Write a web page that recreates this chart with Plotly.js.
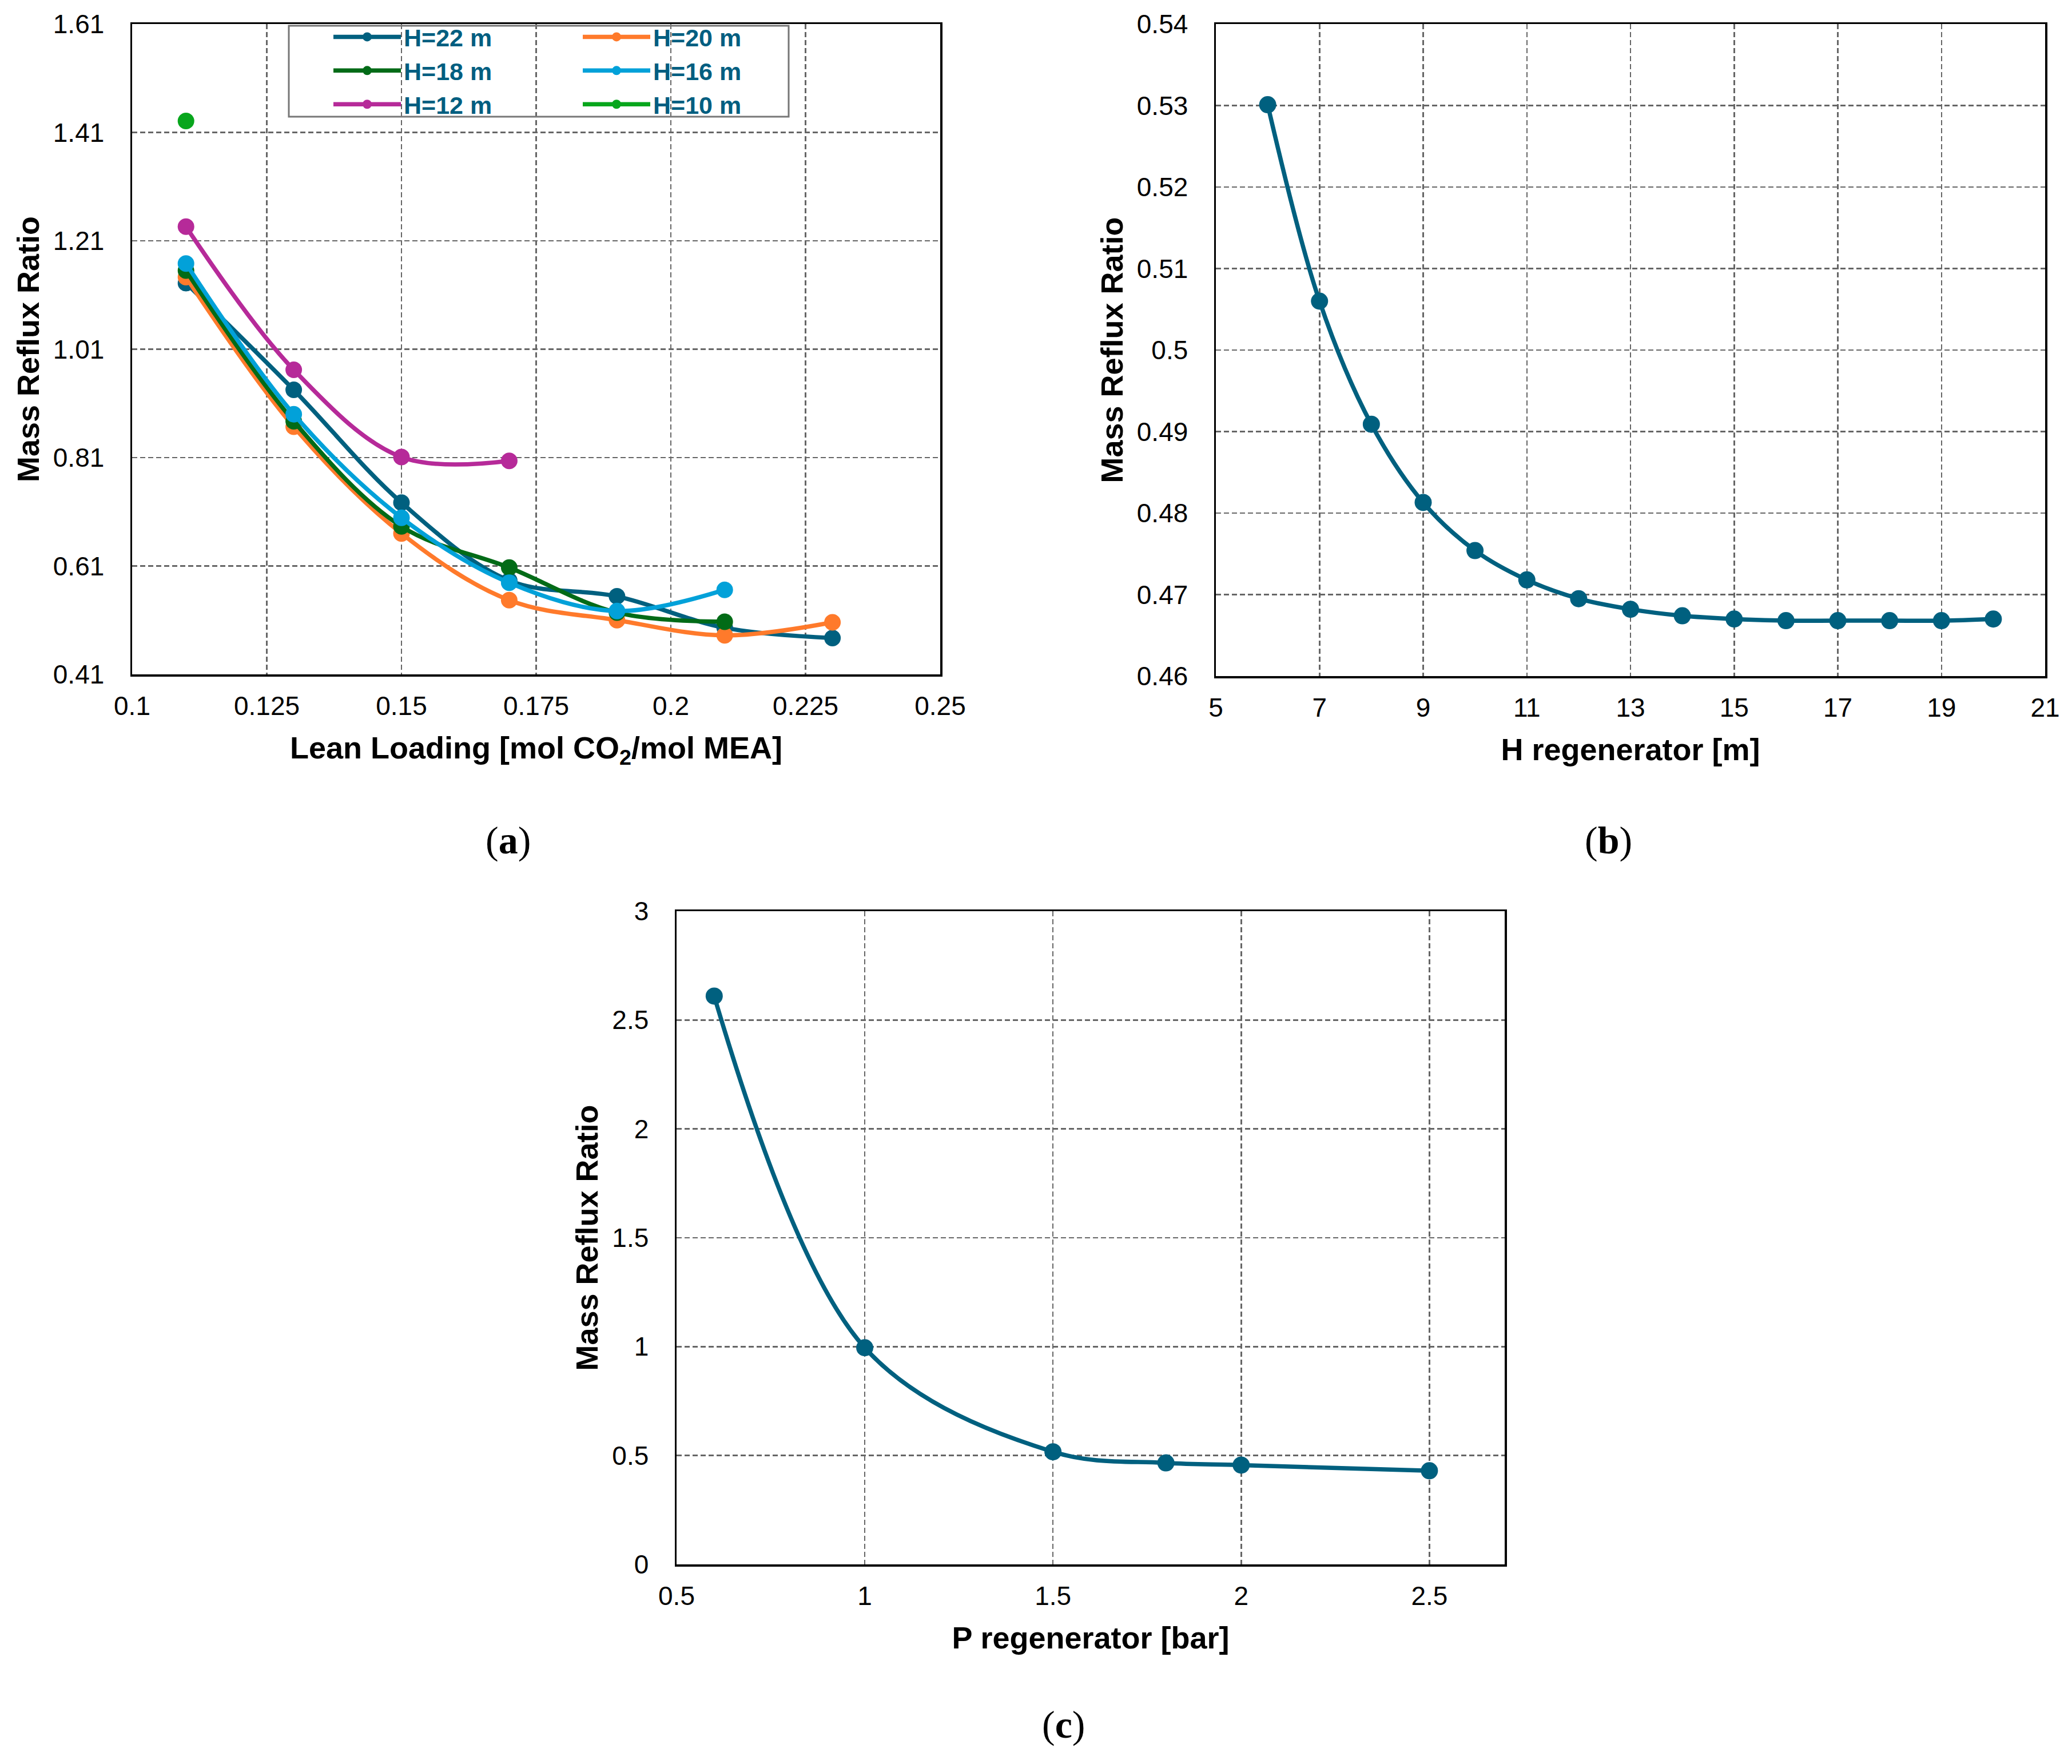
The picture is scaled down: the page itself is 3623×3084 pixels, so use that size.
<!DOCTYPE html>
<html>
<head>
<meta charset="utf-8">
<script src="https://cdn.plot.ly/plotly-3.0.1.min.js"></script>
<style>
  html, body { margin: 0; padding: 0; background: #fff; }
  #chart { width: 3623px; height: 3084px; }
</style>
</head>
<body>
<div id="chart"></div>
<script>
// (a) lean loading sweep, one series per regenerator height
var leanLoading = [0.11, 0.13, 0.15, 0.17, 0.19, 0.21, 0.23];
var refluxH22 = [1.132, 0.935, 0.727, 0.583, 0.554, 0.496, 0.477];
var refluxH20 = [1.143, 0.867, 0.670, 0.547, 0.510, 0.482, 0.506];
var refluxH18 = [1.155, 0.877, 0.683, 0.607, 0.524, 0.507];
var refluxH16 = [1.168, 0.890, 0.699, 0.579, 0.527, 0.566];
var refluxH12 = [1.236, 0.972, 0.811, 0.804];
var refluxH10 = [1.431];
var leanTicks = [0.1, 0.125, 0.15, 0.175, 0.2, 0.225, 0.25];
var leanTickText = ["0.1", "0.125", "0.15", "0.175", "0.2", "0.225", "0.25"];
var refluxTicksA = [0.41, 0.61, 0.81, 1.01, 1.21, 1.41, 1.61];
var refluxTickTextA = ["0.41", "0.61", "0.81", "1.01", "1.21", "1.41", "1.61"];

// (b) regenerator height
var heightRegen = [6, 7, 8, 9, 10, 11, 12, 13, 14, 15, 16, 17, 18, 19, 20];
var refluxB = [0.5301, 0.506, 0.4909, 0.4813, 0.4754, 0.4718, 0.4695, 0.4682, 0.4674, 0.4670, 0.4668, 0.4668, 0.4668, 0.4668, 0.4670];
var heightTicks = [5, 7, 9, 11, 13, 15, 17, 19, 21];
var heightTickText = ["5", "7", "9", "11", "13", "15", "17", "19", "21"];
var refluxTicksB = [0.46, 0.47, 0.48, 0.49, 0.5, 0.51, 0.52, 0.53, 0.54];
var refluxTickTextB = ["0.46", "0.47", "0.48", "0.49", "0.5", "0.51", "0.52", "0.53", "0.54"];

// (c) regenerator pressure
var pressureRegen = [0.6, 1.0, 1.5, 1.8, 2.0, 2.5];
var refluxC = [2.61, 0.995, 0.517, 0.466, 0.456, 0.43];
var pressureTicks = [0.5, 1, 1.5, 2, 2.5];
var pressureTickText = ["0.5", "1", "1.5", "2", "2.5"];
var refluxTicksC = [0, 0.5, 1, 1.5, 2, 2.5, 3];
var refluxTickTextC = ["0", "0.5", "1", "1.5", "2", "2.5", "3"];

var W = 3623, H = 3084;
var sans = "Liberation Sans, Arial, sans-serif";
var teal = "#00607F";

function series(name, x, y, color, legend) {
    return {
        type: "scatter",
        mode: "lines+markers",
        name: name,
        x: x,
        y: y,
        xaxis: "x",
        yaxis: "y",
        legend: legend,
        line: { color: color, width: 7.5, shape: "spline", smoothing: 1 },
        marker: { color: color, size: 29 }
    };
}

var data = [
    series("H=22 m", leanLoading, refluxH22, "#00607F", "legend"),
    series("H=20 m", leanLoading, refluxH20, "#FF7A2B", "legend2"),
    series("H=18 m", leanLoading.slice(0, refluxH18.length), refluxH18, "#026B17", "legend"),
    series("H=16 m", leanLoading.slice(0, refluxH16.length), refluxH16, "#02A1D9", "legend2"),
    series("H=12 m", leanLoading.slice(0, refluxH12.length), refluxH12, "#B62A99", "legend"),
    series("H=10 m", leanLoading.slice(0, refluxH10.length), refluxH10, "#07A61C", "legend2"),
    {
        type: "scatter", mode: "lines+markers", x: heightRegen, y: refluxB,
        xaxis: "x2", yaxis: "y2", showlegend: false,
        line: { color: teal, width: 7.5, shape: "spline", smoothing: 1 },
        marker: { color: teal, size: 30 }
    },
    {
        type: "scatter", mode: "lines+markers", x: pressureRegen, y: refluxC,
        xaxis: "x3", yaxis: "y3", showlegend: false,
        line: { color: teal, width: 7.5, shape: "spline", smoothing: 1 },
        marker: { color: teal, size: 30 }
    }
];

// pixel helpers -> paper fractions
function px(v) { return v / W; }
function py(v) { return 1 - v / H; }

function axis(extra) {
    var base = {
        showline: true, mirror: true, linecolor: "#000", linewidth: 3.5,
        showgrid: true, gridcolor: "#666", gridwidth: 2.5, griddash: "9px,5px",
        zeroline: false, ticks: "",
        tickfont: { family: sans, size: 46, color: "#000" },
        tickmode: "array", fixedrange: true
    };
    for (var k in extra) base[k] = extra[k];
    return base;
}

function axisTitle(text, standoff) {
    return { text: text, standoff: standoff, font: { family: sans, size: 54, color: "#000", weight: 700 } };
}

var legendStyle = function (left) {
    return {
        x: px(left), xanchor: "left", y: py(30), yanchor: "top",
        bgcolor: "rgba(0,0,0,0)", borderwidth: 0,
        font: { family: sans, size: 43, color: "#005E80", weight: 700 },
        itemwidth: 118, tracegroupgap: 0
    };
};

var layout = {
    width: W,
    height: H,
    margin: { l: 0, r: 0, t: 0, b: 0 },
    paper_bgcolor: "#fff",
    plot_bgcolor: "#fff",
    xaxis: axis({
        domain: [px(231), px(1644)], range: [0.1, 0.25], anchor: "y",
        tickvals: leanTicks, ticktext: leanTickText, ticklabelstandoff: 12,
        title: axisTitle("Lean Loading [mol CO<sub>2</sub>/mol MEA]", 30)
    }),
    yaxis: axis({
        domain: [py(1179), py(42)], range: [0.41, 1.61], anchor: "x",
        tickvals: refluxTicksA, ticktext: refluxTickTextA, ticklabelstandoff: 36,
        title: axisTitle("Mass Reflux Ratio", 8)
    }),
    xaxis2: axis({
        domain: [px(2126), px(3576)], range: [5, 21], anchor: "y2",
        tickvals: heightTicks, ticktext: heightTickText, ticklabelstandoff: 12,
        title: axisTitle("H regenerator [m]", 30)
    }),
    yaxis2: axis({
        domain: [py(1182), py(42)], range: [0.46, 0.54], anchor: "x2",
        tickvals: refluxTicksB, ticktext: refluxTickTextB, ticklabelstandoff: 36,
        title: axisTitle("Mass Reflux Ratio", 8)
    }),
    xaxis3: axis({
        domain: [px(1183), px(2631)], range: [0.5, 2.7], anchor: "y3",
        tickvals: pressureTicks, ticktext: pressureTickText, ticklabelstandoff: 12,
        title: axisTitle("P regenerator [bar]", 30)
    }),
    yaxis3: axis({
        domain: [py(2735), py(1593)], range: [0, 3], anchor: "x3",
        tickvals: refluxTicksC, ticktext: refluxTickTextC, ticklabelstandoff: 36,
        title: axisTitle("Mass Reflux Ratio", 8)
    }),
    legend: legendStyle(578),
    legend2: legendStyle(1014),
    shapes: [{
        type: "rect", xref: "paper", yref: "paper",
        x0: px(505), x1: px(1379), y0: py(204), y1: py(45),
        line: { color: "#777", width: 3 }, fillcolor: "rgba(0,0,0,0)", layer: "above"
    }],
    annotations: [
        { text: "(<b>a</b>)", x: px(888), y: py(1469) },
        { text: "(<b>b</b>)", x: px(2812), y: py(1469) },
        { text: "(<b>c</b>)", x: px(1860), y: py(3015) }
    ].map(function (a) {
        a.xref = "paper"; a.yref = "paper"; a.showarrow = false;
        a.xanchor = "center"; a.yanchor = "middle";
        a.font = { family: "Liberation Serif, Times New Roman, serif", size: 68, color: "#000" };
        return a;
    })
};

Plotly.newPlot("chart", data, layout, { displayModeBar: false, staticPlot: true });
</script>
</body>
</html>
